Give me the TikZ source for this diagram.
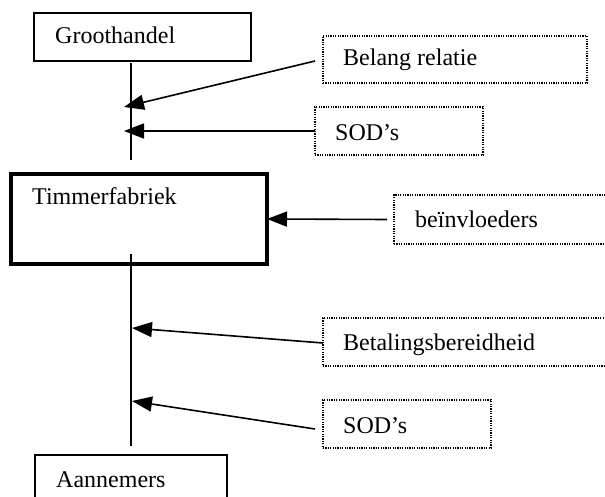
\documentclass[tikz,border=0pt]{standalone}
\usepackage{fontspec}
\setmainfont{Liberation Serif}
\usetikzlibrary{arrows.meta}
\begin{document}
\begin{tikzpicture}[x=1pt,y=-1pt,
  solidbox/.style={draw, line width=1.5pt, outer sep=0pt, inner sep=0pt, anchor=north west},
  heavybox/.style={draw, line width=4pt, outer sep=0pt, inner sep=0pt, anchor=north west},
  dotbox/.style={draw, line width=1.4pt, dash pattern=on 1.2pt off 1.2pt, outer sep=0pt, inner sep=0pt, anchor=north west},
  lbl/.style={inner sep=0pt, anchor=base west, font=\fontsize{24}{28}\selectfont},
  axis/.style={line width=1.8pt},
  arr/.style={line width=1.6pt, -{Triangle[length=20pt,width=15pt]}}]
\useasboundingbox (0,0) rectangle (605,497);
\clip (0,0) rectangle (605,497);

% actors
\node[solidbox, minimum width=217pt, minimum height=48pt] (groot) at (34,13) {};
\node[lbl] (grootT) at (55,44) {Groothandel};
\node[heavybox, minimum width=256pt, minimum height=90pt] (timmer) at (11,174) {};
\node[lbl] (timmerT) at (32,205) {Timmerfabriek};
\node[solidbox, minimum width=192pt, minimum height=60pt] (aann) at (35,455) {};
\node[lbl] (aannT) at (56,487) {Aannemers};

% factors
\node[dotbox, minimum width=264pt, minimum height=47pt] (belang) at (323,36) {};
\node[lbl] (belangT) at (343,66) {Belang relatie};
\node[dotbox, minimum width=168pt, minimum height=48pt] (sod1) at (315,107) {};
\node[lbl] (sod1T) at (335,141) {SOD’s};
\node[dotbox, minimum width=230pt, minimum height=49pt] (beinv) at (394,195) {};
\node[lbl] (beinvT) at (415,228) {beïnvloeders};
\node[dotbox, minimum width=300pt, minimum height=48pt] (betal) at (323,318) {};
\node[lbl] (betalT) at (343,350) {Betalingsbereidheid};
\node[dotbox, minimum width=168pt, minimum height=48pt] (sod2) at (323,400) {};
\node[lbl] (sod2T) at (343,433) {SOD’s};

% spines
\coordinate (up1) at (131,63);
\coordinate (up2) at (131,160);
\coordinate (lo1) at (131,254);
\coordinate (lo2) at (131,446);
\draw[axis] (up1) -- (up2);
\draw[axis] (lo1) -- (lo2);

% arrow tips on the spines
\coordinate (t1) at (124,107);
\coordinate (t2) at (124,131);
\coordinate (t3) at (132,328);
\coordinate (t4) at (132,401);

\draw[arr] ([shift={(-8pt,-1.5pt)}]belang.west) -- (t1);
\draw[arr] (sod1.west) -- (t2);
\draw[arr] ([xshift=-7pt]beinv.west) -- (timmer.east);
\draw[arr] ([yshift=-1pt]betal.west) -- (t3);
\draw[arr] ([shift={(-8pt,-5pt)}]sod2.west) -- (t4);
\end{tikzpicture}
\end{document}
